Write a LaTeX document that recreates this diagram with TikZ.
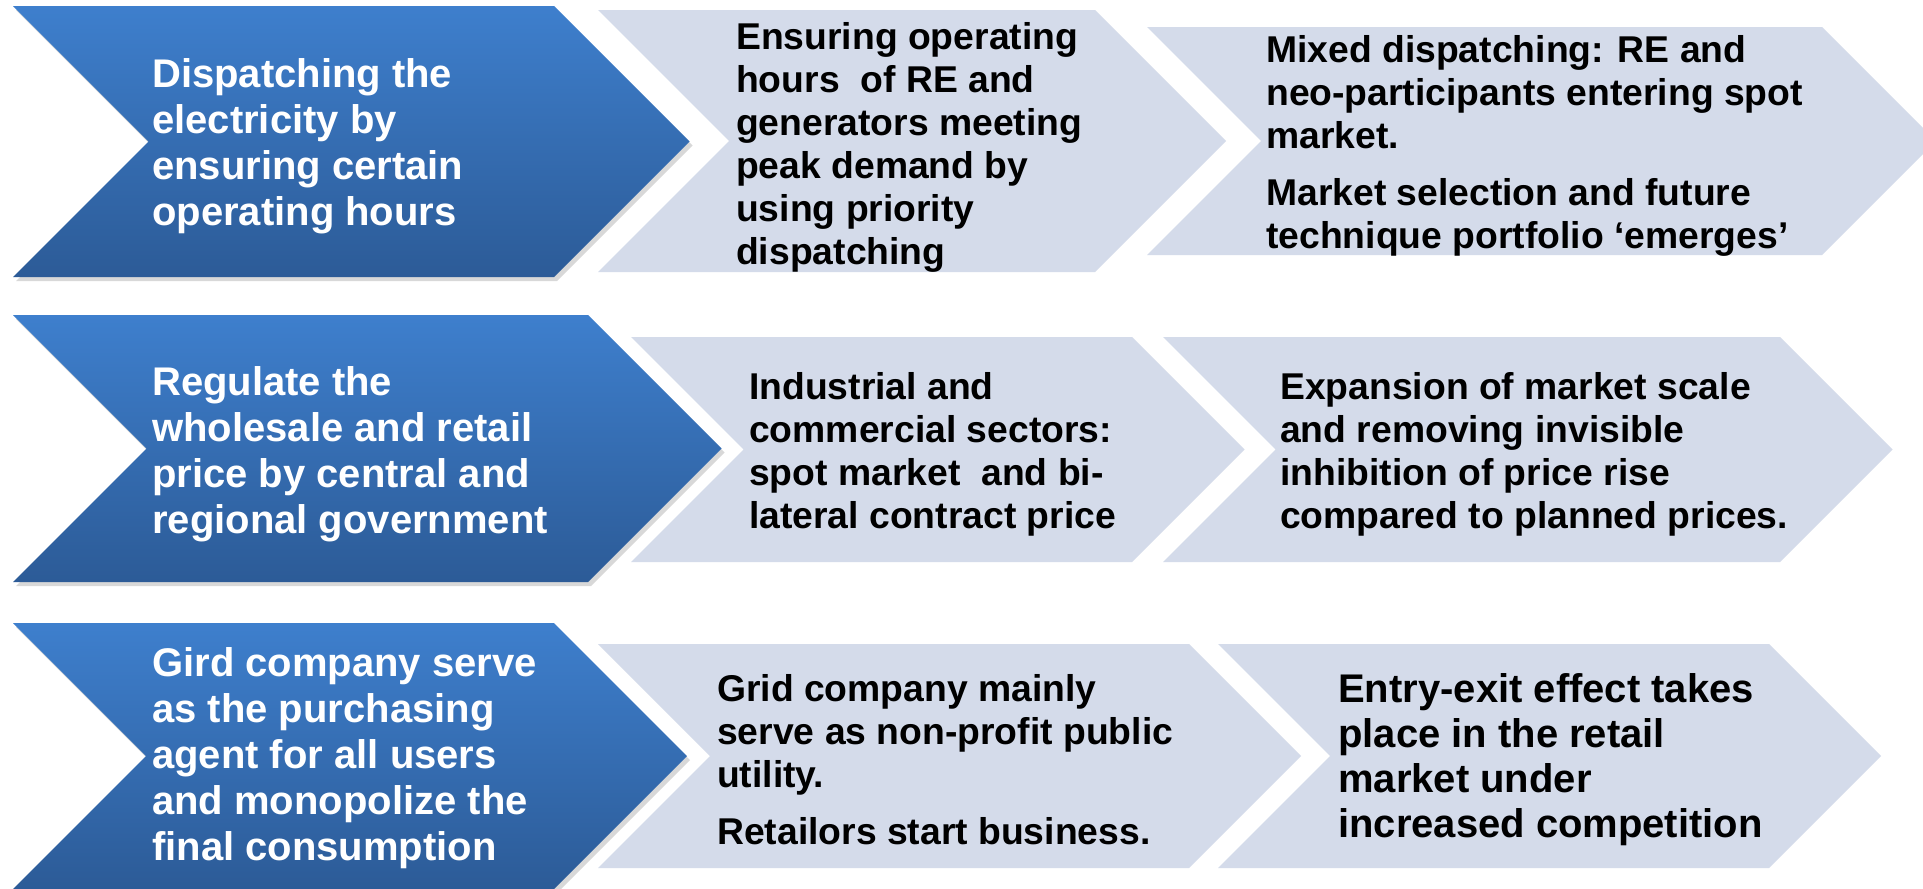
\documentclass[tikz,border=0pt]{standalone}
\usepackage{fontspec}
\setmainfont{Liberation Sans}
\usepackage{tikz}
\usetikzlibrary{shadows}

\definecolor{leadtop}{RGB}{62,127,205}
\definecolor{leadbot}{RGB}{44,91,151}
\definecolor{stepfill}{RGB}{212,219,234}

% chevron, notch on the left and point on the right (45 degree sides)
% \chevron[style]{left}{right}{top}{bottom}
\newcommand{\chevron}[5][]{%
  \pgfmathsetmacro\half{(#5-#4)/2}
  \path[#1] (#2,#4) -- (#3,#4) -- (#3+\half,#4+\half) -- (#3,#5)
    -- (#2,#5) -- (#2+\half,#4+\half) -- cycle;}

\begin{document}
\begin{tikzpicture}[x=1pt,y=-1pt]
  \tikzstyle{lead}=[top color=leadtop,bottom color=leadbot,
                    drop shadow={shadow xshift=3pt,shadow yshift=-4pt,opacity=.3}]
  \tikzstyle{stepbox}=[fill=stepfill]
  \tikzstyle{lead text}=[anchor=west,align=left,inner sep=0pt,yshift=-4pt,text=white,
                         font=\bfseries\fontsize{40}{46}\selectfont]
  \tikzstyle{step text}=[anchor=west,align=left,inner sep=0pt,yshift=-4pt,text=black,
                         font=\bfseries\fontsize{37.3}{43}\selectfont]

  \fill[white] (0,0) rectangle (1923,889);
  \useasboundingbox (0,0) rectangle (1923,889);

  % dispatching
  \chevron[stepbox]{1147}{1822}{27}{255}
  \chevron[stepbox]{598}{1095}{10}{272}
  \chevron[lead]{13}{554}{6}{277}

  % pricing
  \chevron[stepbox]{1163}{1780}{337}{562}
  \chevron[stepbox]{631}{1132}{337}{562}
  \chevron[lead]{13}{588}{315}{582}

  % retail
  \chevron[stepbox]{1218}{1769}{644}{868}
  \chevron[stepbox]{598}{1189}{644}{868}
  \chevron[lead]{13}{554}{623}{889}

  \node[lead text] (D0) at (152,142) {Dispatching the\\electricity by\\ensuring certain\\operating hours};
  \node[step text] (D1) at (736,143) {Ensuring operating\\hours~ of RE and\\generators meeting\\peak demand by\\using priority\\dispatching};
  \node[step text] (D2) at (1266,142) {Mixed dispatching: RE and\\neo-participants entering spot\\market.\\[14pt]Market selection and future\\technique portfolio ‘emerges’};

  \node[lead text] (P0) at (152,450) {Regulate the\\wholesale and retail\\price by central and\\regional government};
  \node[step text] (P1) at (749,450) {Industrial and\\commercial sectors:\\spot market~ and bi-\\lateral contract price};
  \node[step text] (P2) at (1280,450) {Expansion of market scale\\and removing invisible\\inhibition of price rise\\compared to planned prices.};

  \node[lead text] (R0) at (152,754) {Gird company serve\\as the purchasing\\agent for all users\\and monopolize the\\final consumption};
  \node[step text] (R1) at (717,756) {Grid company mainly\\serve as non-profit public\\utility.\\[14pt]Retailors start business.};
  \node[step text,font=\bfseries\fontsize{40}{45}\selectfont] (R2) at (1338,756)
    {Entry-exit effect takes\\place in the retail\\market under\\increased competition};
\end{tikzpicture}
\end{document}
